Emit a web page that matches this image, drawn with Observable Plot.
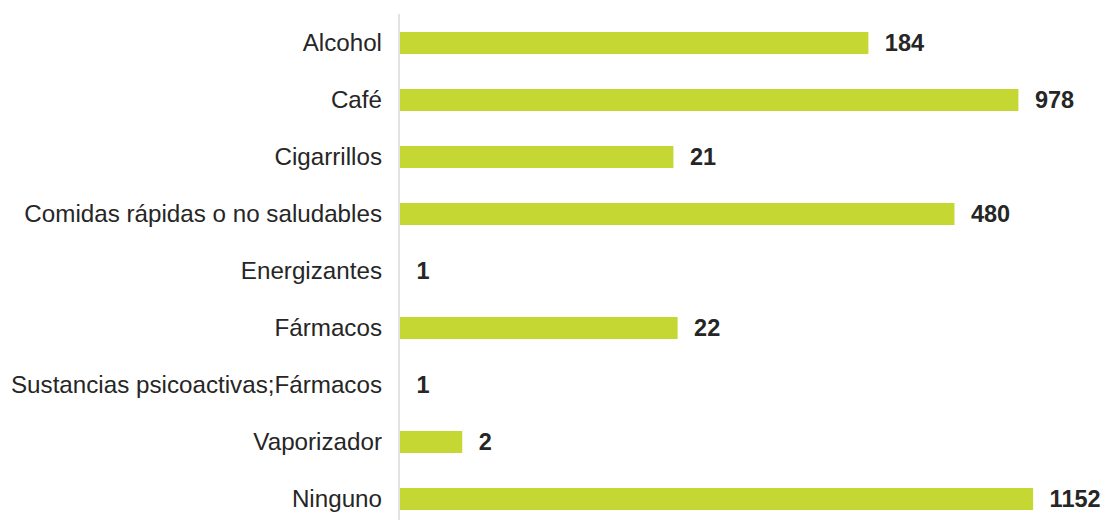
<!DOCTYPE html>
<html>
<head>
<meta charset="utf-8">
<script src="https://cdn.jsdelivr.net/npm/d3@7"></script>
<script src="https://cdn.jsdelivr.net/npm/@observablehq/plot@0.6"></script>
<style>
  html, body { margin: 0; padding: 0; background: #fff; }
  #chart svg { display: block; }
</style>
</head>
<body>
<div id="chart"></div>
<script>
const categories = ["Alcohol", "Café", "Cigarrillos", "Comidas rápidas o no saludables", "Energizantes", "Fármacos", "Sustancias psicoactivas;Fármacos", "Vaporizador", "Ninguno"];
const values = [184, 978, 21, 480, 1, 22, 1, 2, 1152];

const data = categories.map((c, i) => ({category: c, value: values[i]}));

const chart = Plot.plot({
  width: 1106,
  height: 520,
  marginTop: 14,
  marginBottom: 0,
  marginLeft: 400,
  marginRight: 0,
  style: {fontFamily: "'Liberation Sans', Arial, sans-serif", background: "#fff"},
  x: {type: "log", domain: [1, 1000], range: [400, 1020.4], axis: null},
  y: {domain: categories, range: [31.5, 510], paddingInner: 0.614, paddingOuter: 0, label: null},
  marks: [
    Plot.axisY({tickSize: 0, tickPadding: 18.5, fontSize: 24.2, fill: "#262626", label: null}),
    Plot.barX(data, {y: "category", x1: () => 1, x2: "value", fill: "#c5d732"}),
    Plot.ruleX([1], {stroke: "#d9d9d9", strokeWidth: 1.5, dx: -1.5}),
    Plot.text(data, {y: "category", x: "value", text: d => String(d.value), dx: 16, textAnchor: "start", fontSize: 23.5, fontWeight: "bold", fill: "#262626"})
  ]
});
document.getElementById("chart").appendChild(chart);
</script>
</body>
</html>
